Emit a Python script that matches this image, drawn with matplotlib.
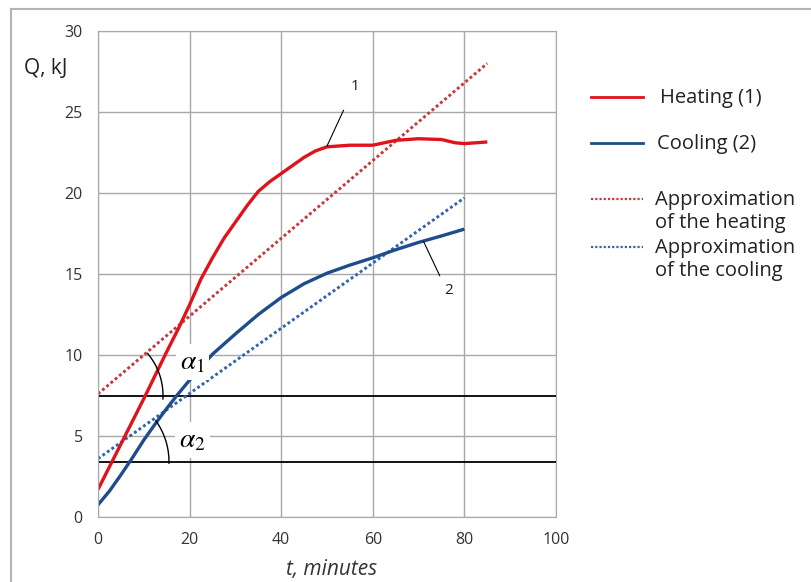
import numpy as np
import matplotlib
matplotlib.use("Agg")
import matplotlib.pyplot as plt
from matplotlib.lines import Line2D

plt.rcParams['font.family'] = ['Open Sans', 'DejaVu Sans']
plt.rcParams['mathtext.fontset'] = 'stix'

# heating curve (1)
heat_t = [0, 5, 10, 15, 17.5, 20, 22.5, 25, 27.5, 30, 32.5, 35, 37.5, 40, 42.5,
          45, 47.5, 50, 55, 60, 62.5, 65, 70, 75, 78, 80, 82.5, 85]
heat_q = [1.7, 4.5, 7.3, 10.2, 11.6, 13.1, 14.7, 16.0, 17.2, 18.2, 19.2, 20.1, 20.7, 21.2, 21.7,
          22.2, 22.6, 22.85, 22.95, 22.95, 23.1, 23.25, 23.35, 23.3, 23.1, 23.05, 23.1, 23.15]

# cooling curve (2)
cool_t = [0, 2.5, 5, 7.5, 10, 12.5, 15, 17.5, 20, 22.5, 25, 30, 35, 40, 45, 50,
          55, 60, 65, 70, 75, 80]
cool_q = [0.75, 1.6, 2.6, 3.65, 4.75, 5.75, 6.7, 7.6, 8.45, 9.25, 10.05, 11.3, 12.5, 13.55, 14.4, 15.05,
          15.55, 16.0, 16.5, 16.95, 17.35, 17.77]

# linear approximations
heat_fit_t = [0, 85]
heat_fit_q = [7.6, 28.0]
cool_fit_t = [0, 80]
cool_fit_q = [3.6, 19.7]

# reference horizontals for the angles
base_heat = 7.5
base_cool = 3.4

labels = ["Heating (1)", "Cooling (2)",
          "Approximation\nof the heating", "Approximation\nof the cooling"]

W, H = 812, 582
fig = plt.figure(figsize=(W / 100, H / 100), dpi=100)


def fx(px):
    return px / W


def fy(py):
    return 1 - py / H


ax = fig.add_axes([fx(98), fy(517), (556 - 98) / W, (517 - 31) / H])

grid_color = '#a8a8a8'
red = '#e0121c'
blue = '#1f4c8a'
red_dot = '#c43a3e'
blue_dot = '#2f66ad'
text_color = '#222222'

ax.set_xlim(0, 100)
ax.set_ylim(0, 30)
ax.set_xticks(range(0, 101, 20))
ax.set_yticks(range(0, 31, 5))
ax.grid(True, color=grid_color, lw=1)
ax.tick_params(length=0, labelsize=11.5, colors='#333333')
ax.tick_params(axis='y', pad=11)
ax.tick_params(axis='x', pad=11)
for s in ax.spines.values():
    s.set_color(grid_color)

ax.axhline(base_heat, color='black', lw=1.3)
ax.axhline(base_cool, color='black', lw=1.3)

dots = (0, (1, 0.9))
ax.plot(heat_fit_t, heat_fit_q, color=red_dot, lw=2.1, linestyle=dots)
ax.plot(cool_fit_t, cool_fit_q, color=blue_dot, lw=2.1, linestyle=dots)
ax.plot(heat_t, heat_q, color=red, lw=2.4, solid_capstyle='butt')
ax.plot(cool_t, cool_q, color=blue, lw=2.4, solid_capstyle='butt')

# angle arcs, drawn in pixel space
bb = ax.get_window_extent()
sx = bb.width / 100
sy = bb.height / 30


def arc(x0, y0, r, a1, a2):
    t = np.radians(np.linspace(a1, a2, 40))
    return x0 + r * np.cos(t) / sx, y0 + r * np.sin(t) / sy


def pix_angle(ts, qs):
    return np.degrees(np.arctan((qs[1] - qs[0]) / (ts[1] - ts[0]) * sy / sx))


xa, ya = arc(0, base_heat, 65, pix_angle(heat_fit_t, heat_fit_q), -3)
ax.plot(xa, ya, color='black', lw=1)
xa, ya = arc(0, base_cool, 71, pix_angle(cool_fit_t, cool_fit_q), -1)
ax.plot(xa, ya, color='black', lw=1)

ax.text(20.6, 9.55, r'$\alpha_1$', fontsize=20, ha='center', va='center',
        bbox=dict(fc='white', ec='none', pad=3), zorder=5)
ax.text(20.6, 4.75, r'$\alpha_2$', fontsize=20, ha='center', va='center',
        bbox=dict(fc='white', ec='none', pad=3), zorder=5)

# curve number callouts
ax.plot([50, 53.6], [22.9, 25.1], color='black', lw=0.8)
ax.text(56.2, 26.6, '1', fontsize=11, color=text_color, ha='center', va='center')
ax.plot([71.1, 74.6], [17.0, 14.9], color='black', lw=0.8)
ax.text(76.6, 14.0, '2', fontsize=11, color=text_color, ha='center', va='center')

fig.text(fx(24), fy(69), 'Q, kJ', fontsize=15, color=text_color, va='center', ha='left')
fig.text(fx(332), fy(569), 't, minutes', fontsize=15, style='italic', color='#333333',
         ha='center', va='center')

# legend
leg_y = [97, 143, 199, 247]
leg_x = [660, 657, 655, 655]
leg_color = [red, blue, red_dot, blue_dot]
leg_style = ['-', '-', dots, dots]
leg_lw = [2.0, 2.0, 1.6, 1.6]
line_px = 23.5
for y, x, c, ls, lw, lab in zip(leg_y, leg_x, leg_color, leg_style, leg_lw, labels):
    fig.add_artist(Line2D([fx(591), fx(643)], [fy(y), fy(y)], color=c, lw=lw, linestyle=ls,
                          transform=fig.transFigure))
    for i, part in enumerate(lab.split('\n')):
        fig.text(fx(x), fy(y + 5.5 + i * line_px), part, fontsize=14.5, color=text_color,
                 va='baseline', ha='left')

# outer frame
fig.add_artist(Line2D([fx(11), fx(11)], [0, fy(9)], color='#b4b4b4', lw=1.5,
                      transform=fig.transFigure))
fig.add_artist(Line2D([fx(11), 1], [fy(9), fy(9)], color='#b4b4b4', lw=1.5,
                      transform=fig.transFigure))

fig.savefig('out.png', dpi=100)
